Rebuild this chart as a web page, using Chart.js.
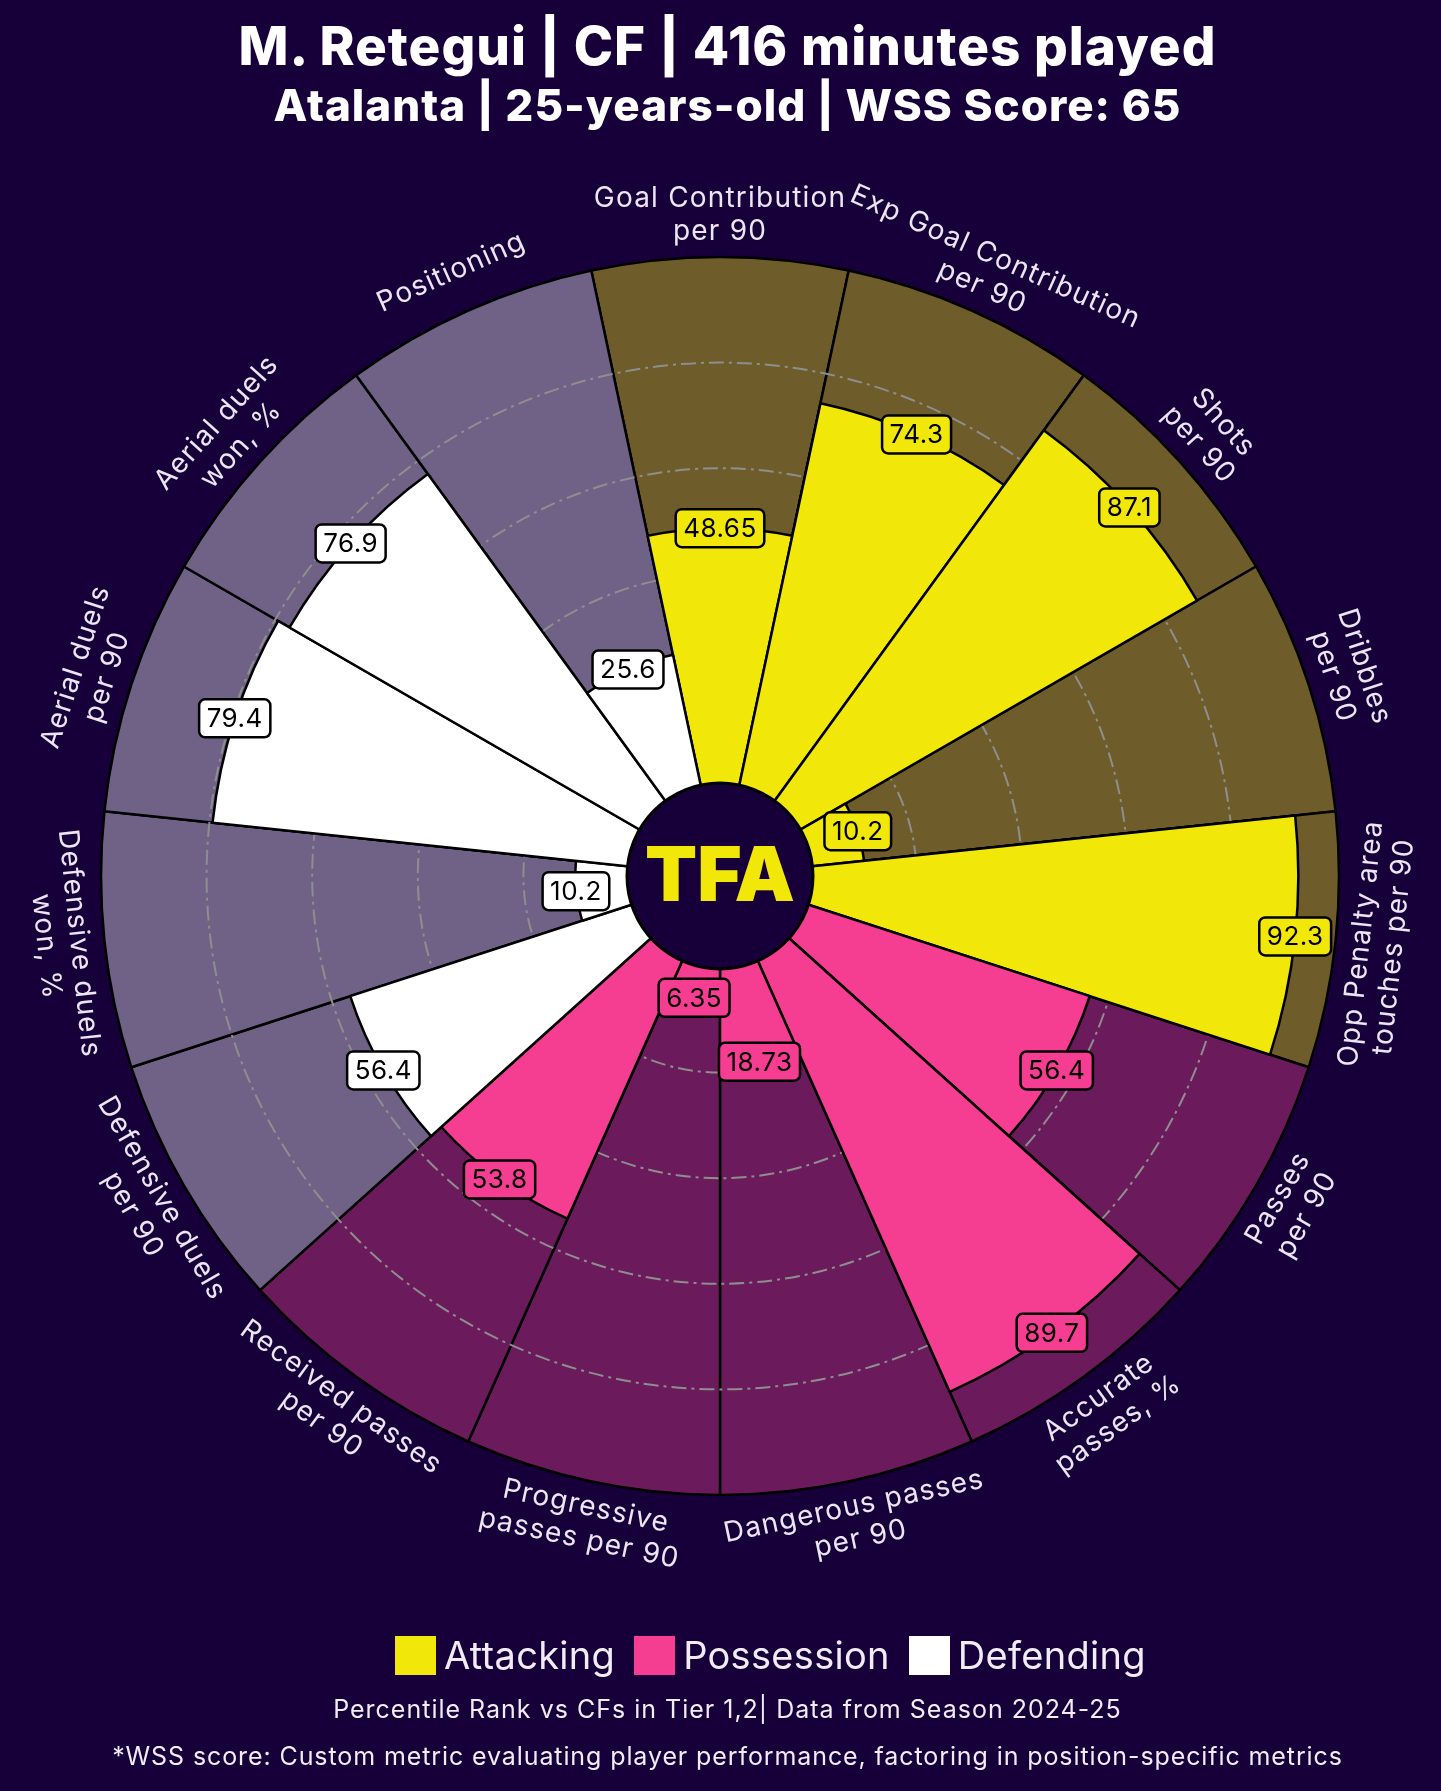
<!DOCTYPE html>
<html><head><meta charset="utf-8">
<script src="https://cdn.jsdelivr.net/npm/chart.js@4.4.1/dist/chart.umd.min.js"></script>
<style>
html,body{margin:0;padding:0;background:#17003A;}
#wrap{position:relative;width:1441px;height:1791px;overflow:hidden;}
canvas{display:block;position:absolute;left:0;top:0;}
.txt{position:absolute;left:7px;width:1441px;text-align:center;color:#fff;white-space:nowrap;transform:translateY(-50%);line-height:1.2;}
#legend{position:absolute;left:395px;top:1635px;height:40px;display:flex;align-items:center;font:400 38px Inter, sans-serif;letter-spacing:0.3px;color:#F1ECF6;}
#legend .sw{width:41px;height:39px;margin-right:8px;}
#legend .it{display:flex;align-items:center;margin-right:19px;}
</style></head><body>
<div id="wrap">
<canvas id="c" width="1441" height="1791"></canvas>
<div class="txt" id="title" style="top:46px;font:800 53px Inter, sans-serif;letter-spacing:1px;"></div>
<div class="txt" id="subtitle" style="top:105px;font:800 44px Inter, sans-serif;letter-spacing:1px;"></div>
<div id="legend"></div>
<div class="txt" id="foot1" style="top:1709px;font:400 25px Inter, sans-serif;letter-spacing:1px;color:#F1ECF6;"></div>
<div class="txt" id="foot2" style="top:1756px;font:400 25px Inter, sans-serif;letter-spacing:0.9px;color:#F1ECF6;"></div>
</div>
<script>
// ---------- data ----------
const titleText = 'M. Retegui | CF | 416 minutes played';
const subtitleText = 'Atalanta | 25-years-old | WSS Score: 65';
const categories = [
  'Goal Contribution\nper 90',
  'Exp Goal Contribution\nper 90',
  'Shots\nper 90',
  'Dribbles\nper 90',
  'Opp Penalty area\ntouches per 90',
  'Passes\nper 90',
  'Accurate\npasses, %',
  'Dangerous passes\nper 90',
  'Progressive\npasses per 90',
  'Received passes\nper 90',
  'Defensive duels\nper 90',
  'Defensive duels\nwon, %',
  'Aerial duels\nper 90',
  'Aerial duels\nwon, %',
  'Positioning'
];
const groups = [
  'Attacking','Attacking','Attacking','Attacking','Attacking',
  'Possession','Possession','Possession','Possession','Possession',
  'Defending','Defending','Defending','Defending','Defending'
];
const values = [48.65, 74.3, 87.1, 10.2, 92.3, 56.4, 89.7, 18.73, 6.35, 53.8, 56.4, 10.2, 79.4, 76.9, 25.6];
const valueLabels = ['48.65','74.3','87.1','10.2','92.3','56.4','89.7','18.73','6.35','53.8','56.4','10.2','79.4','76.9','25.6'];
const groupNames = ['Attacking','Possession','Defending'];
const gridValues = [20, 40, 60, 80];
const maxValue = 100;
const footnotes = [
  'Percentile Rank vs CFs in Tier 1,2| Data from Season 2024-25',
  '*WSS score: Custom metric evaluating player performance, factoring in position-specific metrics'
];
const logoText = 'TFA';

// ---------- styles ----------
const BG = '#17003A';
const brightColors = {Attacking:'#F1E80A', Possession:'#F53D92', Defending:'#FFFFFF'};
const darkColors = {Attacking:'#6E5C2A', Possession:'#6B1A5B', Defending:'#6F6286'};

document.getElementById('title').textContent = titleText;
document.getElementById('subtitle').textContent = subtitleText;
document.getElementById('foot1').textContent = footnotes[0];
document.getElementById('foot2').textContent = footnotes[1];
const lg = document.getElementById('legend');
groupNames.forEach(g => {
  const it = document.createElement('div'); it.className = 'it';
  const sw = document.createElement('div'); sw.className = 'sw'; sw.style.background = brightColors[g];
  const tx = document.createElement('span'); tx.textContent = g;
  it.appendChild(sw); it.appendChild(tx); lg.appendChild(it);
});

const innerFrac = 91 / 619;
const scaleMin = -maxValue * innerFrac / (1 - innerFrac);

const pizzaPlugin = {
  id: 'pizza',
  beforeDraw(chart) {
    const ctx = chart.ctx;
    ctx.save(); ctx.fillStyle = BG; ctx.fillRect(0, 0, chart.width, chart.height); ctx.restore();
  },
  beforeDatasetDraw(chart, args) {
    if (args.index !== 0) return;
    const s = chart.scales.r, ctx = chart.ctx;
    ctx.save();
    ctx.strokeStyle = '#8E8E8E'; ctx.lineWidth = 2; ctx.setLineDash([15, 5, 3, 5]);
    gridValues.forEach(v => {
      ctx.beginPath();
      ctx.arc(s.xCenter, s.yCenter, s.getDistanceFromCenterForValue(v), 0, Math.PI * 2);
      ctx.stroke();
    });
    ctx.restore();
  },
  afterDatasetsDraw(chart) {
    const s = chart.scales.r, ctx = chart.ctx;
    const cx = s.xCenter, cy = s.yCenter;
    const meta = chart.getDatasetMeta(0);
    // centre circle
    ctx.save();
    ctx.beginPath();
    ctx.arc(cx, cy, s.getDistanceFromCenterForValue(0) + 2, 0, Math.PI * 2);
    ctx.fillStyle = BG; ctx.fill();
    ctx.lineWidth = 3; ctx.strokeStyle = '#000'; ctx.stroke();
    ctx.fillStyle = brightColors.Attacking;
    ctx.font = '900 76px Inter, sans-serif';
    ctx.textAlign = 'center'; ctx.textBaseline = 'middle';
    ctx.fillText(logoText, cx, cy + 2);
    ctx.restore();

    // value boxes
    meta.data.forEach((el, i) => {
      const mid = (el.startAngle + el.endAngle) / 2;
      const r = s.getDistanceFromCenterForValue(values[i]);
      const x = cx + r * Math.cos(mid), y = cy + r * Math.sin(mid);
      ctx.save();
      ctx.font = '400 26px Inter, sans-serif';
      ctx.letterSpacing = '0.5px';
      const w = ctx.measureText(valueLabels[i]).width + 15, h = 38;
      ctx.beginPath();
      ctx.roundRect(x - w / 2, y - h / 2, w, h, 6);
      ctx.fillStyle = brightColors[groups[i]]; ctx.fill();
      ctx.lineWidth = 2.5; ctx.strokeStyle = '#000'; ctx.stroke();
      ctx.fillStyle = '#000'; ctx.textAlign = 'center'; ctx.textBaseline = 'middle';
      ctx.fillText(valueLabels[i], x, y + 1);
      ctx.restore();
    });

    // category labels
    const labelR = s.getDistanceFromCenterForValue(maxValue) + 42;
    meta.data.forEach((el, i) => {
      const mid = (el.startAngle + el.endAngle) / 2;
      const x = cx + labelR * Math.cos(mid), y = cy + labelR * Math.sin(mid);
      const bottom = Math.sin(mid) > 0;
      const rot = bottom ? mid - Math.PI / 2 : mid + Math.PI / 2;
      const lines = categories[i].split('\n');
      const lh = 33;
      ctx.save();
      ctx.translate(x, y); ctx.rotate(rot);
      ctx.font = '400 28px Inter, sans-serif';
      ctx.letterSpacing = '1.2px';
      ctx.fillStyle = '#ECE5F3'; ctx.textAlign = 'center'; ctx.textBaseline = 'middle';
      lines.forEach((ln, k) => {
        ctx.fillText(ln, 0, (k - (lines.length - 1) / 2) * lh);
      });
      ctx.restore();
    });
  }
};

new Chart(document.getElementById('c'), {
  type: 'polarArea',
  data: {
    labels: categories,
    datasets: [
      {
        data: values,
        backgroundColor: groups.map(g => brightColors[g]),
        borderColor: '#000', borderWidth: 2.5
      },
      {
        data: categories.map(() => maxValue),
        backgroundColor: groups.map(g => darkColors[g]),
        borderColor: '#000', borderWidth: 2.5
      }
    ]
  },
  options: {
    responsive: false,
    devicePixelRatio: 1,
    animation: false,
    startAngle: -12,
    layout: {padding: {left: 101, right: 102, top: 257, bottom: 296}},
    plugins: {legend: {display: false}, tooltip: {enabled: false}},
    scales: {
      r: {
        min: scaleMin, max: maxValue,
        startAngle: -12,
        ticks: {display: false},
        grid: {display: false},
        angleLines: {display: false},
        pointLabels: {display: false}
      }
    }
  },
  plugins: [pizzaPlugin]
});
</script>
</body></html>
